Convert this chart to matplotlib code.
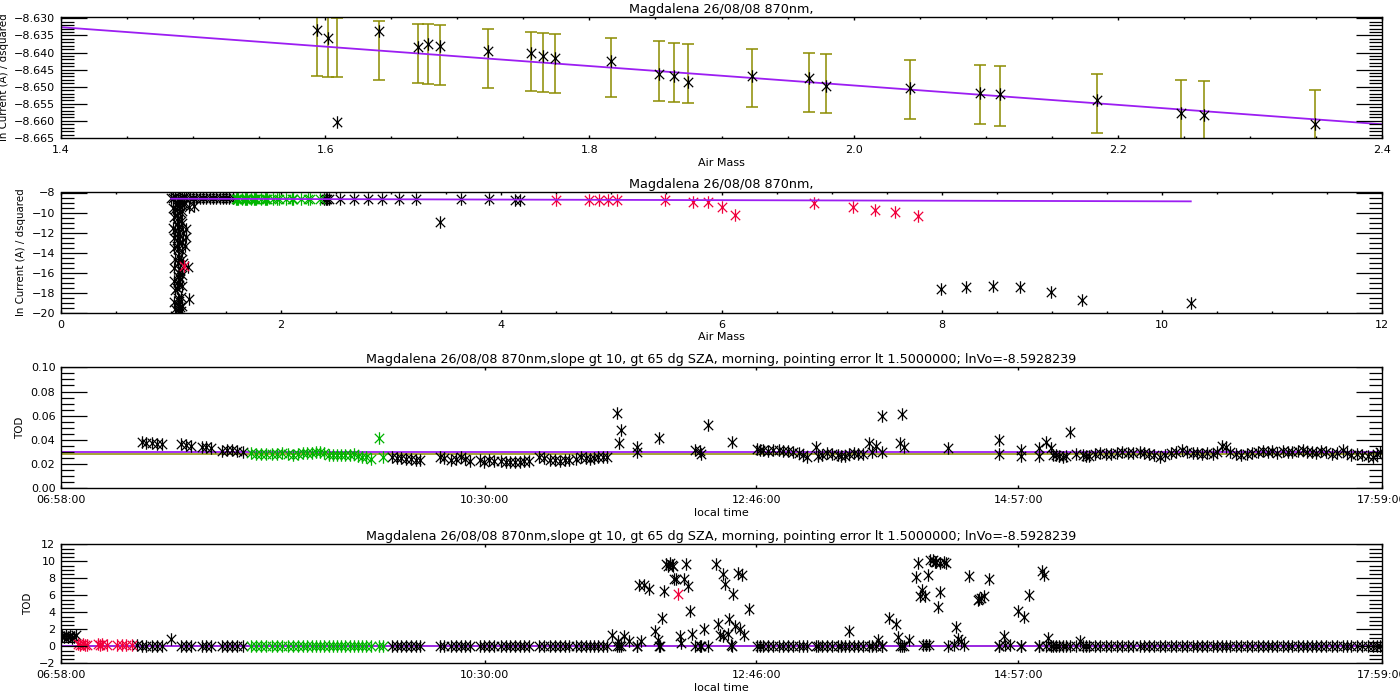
import numpy as np
import matplotlib
matplotlib.use("Agg")
import matplotlib.pyplot as plt
from matplotlib.path import Path
from matplotlib.ticker import MultipleLocator, FuncFormatter, FixedLocator

plt.rcParams['font.family'] = ['DejaVu Sans']
plt.rcParams['font.size'] = 8
# IDL style axes: inward ticks all round; y ticks are drawn by idl_yticks below
plt.rcParams.update({
    'xtick.direction': 'in', 'ytick.direction': 'in',
    'xtick.top': True, 'ytick.right': True,
    'ytick.major.size': 0, 'ytick.minor.size': 0,
    'xtick.major.size': 2.5, 'xtick.minor.size': 1.2,
    'xtick.major.width': 1.0, 'xtick.minor.width': 1.0,
    'ytick.major.pad': 4, 'xtick.major.pad': 5,
    'axes.linewidth': 1.0,
})

title_short = "Magdalena 26/08/08 870nm,"
title_long = ("Magdalena 26/08/08 870nm,slope gt 10, gt 65 dg SZA, morning, "
              "pointing error lt 1.5000000; lnVo=-8.5928239")

# Langley fit
lnVo = -8.5928239
slope = -0.0284

# Panel 1: points used in the Langley fit (air mass, ln current, error)
lang_am = [1.594, 1.602, 1.609, 1.641, 1.670, 1.678, 1.687, 1.723, 1.756, 1.765,
           1.774, 1.816, 1.853, 1.864, 1.875, 1.923, 1.966, 1.979, 2.043, 2.096,
           2.111, 2.184, 2.248, 2.265, 2.349]
lang_lnI = [-8.6333, -8.6358, -8.6602, -8.6338, -8.6383, -8.6375, -8.6380, -8.6395,
            -8.6402, -8.6410, -8.6415, -8.6425, -8.6464, -8.6468, -8.6485, -8.6470,
            -8.6474, -8.6499, -8.6503, -8.6517, -8.6521, -8.6539, -8.6576, -8.6583,
            -8.6608]
lang_err = [0.0087, 0.0088, 0.0087, 0.0087, 0.0087, 0.0087, 0.0087, 0.0087, 0.0087,
            0.0087, 0.0086, 0.0087, 0.0087, 0.0086, 0.0087, 0.0085, 0.0086, 0.0087,
            0.0087, 0.0087, 0.0087, 0.0087, 0.0087, 0.0087, 0.0086]

# Panel 2: all morning points (black = rejected, red = flagged)
am_black = [1.00, 1.02, 1.04, 1.06, 1.08, 1.10, 1.12, 1.14, 1.17, 1.20, 1.23, 1.26,
            1.29, 1.32, 1.35, 1.38, 1.41, 1.44, 1.47, 1.50, 1.53, 1.56,
            1.05, 1.07, 1.04, 1.08, 1.05, 1.06, 1.09, 1.05, 1.07, 1.04, 1.06, 1.08,
            1.05, 1.07, 1.05, 1.06, 1.07, 1.09, 1.06, 1.08, 1.07, 1.06, 1.08, 1.06,
            1.07, 1.05, 1.06, 1.07, 1.06, 1.08, 1.06, 1.07,
            1.02, 1.10, 1.03, 1.10, 1.02, 1.11, 1.03, 1.10, 1.03, 1.10, 1.04, 1.11,
            1.03, 1.10, 1.03, 1.10, 1.04, 1.09, 1.03, 1.10, 1.04, 1.09, 1.12, 1.08,
            1.139, 1.124, 1.155, 1.164, 1.133, 1.164, 1.209, 1.10,
            2.39, 2.41, 2.42, 2.437, 2.538, 2.66, 2.79, 2.916, 3.066, 3.228, 3.635,
            3.886, 4.12, 4.17, 3.44,
            7.996, 8.222, 8.465, 8.715, 8.99, 9.277, 10.263]
ln_black = [-8.50, -8.55, -8.45, -8.60, -8.50, -8.55, -8.48, -8.58, -8.52, -8.55, -8.50,
            -8.58, -8.52, -8.55, -8.50, -8.58, -8.55, -8.52, -8.58, -8.55, -8.52, -8.57,
            -9.0, -9.3, -9.6, -9.9, -10.2, -10.5, -10.8, -11.1, -11.4, -11.7, -12.0,
            -12.3, -12.7, -13.0, -13.3, -13.6, -14.4, -14.7, -15.0, -15.7, -16.0,
            -16.3, -16.6, -16.9, -17.2, -17.5, -18.5, -18.8, -19.1, -19.4, -19.7, -19.8,
            -9.5, -9.8, -10.4, -11.0, -11.5, -12.0, -12.5, -12.9, -13.5, -13.8, -14.6,
            -15.0, -15.5, -16.2, -16.8, -17.3, -17.7, -18.4, -18.9, -19.3, -19.6, -19.8,
            -9.1, -8.9,
            -12.49, -13.35, -15.41, -18.63, -11.60, -9.43, -9.33, -9.20,
            -8.60, -8.62, -8.65, -8.65, -8.65, -8.67, -8.67, -8.67, -8.68, -8.68,
            -8.66, -8.67, -8.72, -8.72, -10.97,
            -17.60, -17.47, -17.37, -17.47, -17.90, -18.73, -19.03]
am_red = [1.115, 4.496, 4.80, 4.885, 4.97, 5.05, 5.49, 5.745, 5.879, 6.0, 6.125,
          6.844, 7.196, 7.39, 7.576, 7.786]
ln_red = [-15.35, -8.70, -8.70, -8.70, -8.70, -8.70, -8.75, -8.93, -8.96, -9.46,
          -10.28, -9.06, -9.49, -9.72, -9.92, -10.38]

# Panel 3: TOD vs local time (minutes after midnight), accepted points
tod_t = [458.5, 460.5, 463.4, 466.0, 468.6, 478.1, 480.5, 482.9, 488.6, 490.5, 493.3,
         498.8, 501.0, 503.4, 506.0, 509.1,
         583.5, 586.0, 588.1, 590.5, 593.0, 595.5, 597.8, 607.7, 609.5, 613.0, 615.5,
         618.3, 620.0, 622.5, 627.7, 629.9, 632.0, 634.5, 638.3, 640.5, 642.5, 645.0,
         647.8, 649.9, 652.0, 657.3, 659.5, 662.5, 665.0, 667.8, 670.0, 672.0, 675.5,
         678.3, 680.5, 682.5, 684.5, 686.8, 689.0, 691.0, 696.2, 697.3, 698.4, 706.1,
         706.1, 717.3, 735.2, 737.5, 738.4, 741.9, 753.6,
         766.2, 768.0, 769.5, 772.0, 774.5, 777.2, 779.5, 781.6, 784.5, 787.1, 789.5,
         791.5, 795.9, 797.0, 799.0, 801.4, 804.0, 806.9, 808.5, 810.2, 812.5, 814.6,
         817.0, 819.1, 822.4, 824.0, 825.7, 829.0, 829.0, 837.8, 838.9, 840.0, 862.0,
         887.4, 887.4, 898.4, 898.4, 907.2, 907.2, 911.0, 913.2, 914.5, 916.0, 917.5,
         919.3, 921.0, 923.1, 926.0, 929.3, 931.0, 932.6, 935.5, 938.1, 941.0, 943.6,
         946.5, 949.1, 952.0, 954.6, 957.9, 960.0, 962.3, 965.0, 967.8, 970.5, 973.3,
         976.0, 978.9, 981.5, 984.4, 986.5, 988.8, 991.5, 994.3, 996.5, 998.7, 1000.9,
         1003.0, 1006.0, 1008.6, 1011.5, 1014.1, 1017.0, 1019.6, 1022.0, 1024.0,
         1026.5, 1029.5, 1032.0, 1034.0, 1037.0, 1039.5, 1041.5, 1043.9, 1046.0,
         1048.3, 1051.0, 1053.8, 1056.5, 1059.3, 1061.5, 1063.7, 1066.5, 1069.2,
         1072.0, 1074.3, 1076.5, 1078.0]
tod_v = [0.0381, 0.0376, 0.0372, 0.0368, 0.0364, 0.0364, 0.0358, 0.0353, 0.0344, 0.0340,
         0.0336, 0.0311, 0.0314, 0.0317, 0.0305, 0.0297,
         0.0256, 0.0250, 0.0247, 0.0243, 0.0239, 0.0236, 0.0233, 0.0256, 0.0250, 0.0233,
         0.0240, 0.0256, 0.0245, 0.0225, 0.0233, 0.0214, 0.0233, 0.0228, 0.0225, 0.0220,
         0.0219, 0.0216, 0.0214, 0.0225, 0.0222, 0.0261, 0.0250, 0.0233, 0.0238, 0.0225,
         0.0230, 0.0233, 0.0245, 0.0261, 0.0250, 0.0239, 0.0250, 0.0261, 0.0256, 0.0261,
         0.0622, 0.0372, 0.0478, 0.0344, 0.0303, 0.0414, 0.0317, 0.0310, 0.0281, 0.0525,
         0.0381,
         0.0325, 0.0320, 0.0317, 0.0312, 0.0315, 0.0317, 0.0310, 0.0308, 0.0300, 0.0289,
         0.0275, 0.0261, 0.0344, 0.0267, 0.0275, 0.0289, 0.0280, 0.0275, 0.0270, 0.0267,
         0.0280, 0.0294, 0.0285, 0.0281, 0.0372, 0.0300, 0.0353, 0.0600, 0.0303, 0.0372,
         0.0617, 0.0344, 0.0336,
         0.0400, 0.0283, 0.0317, 0.0267, 0.0331, 0.0267, 0.0386, 0.0331, 0.0275, 0.0275,
         0.0270, 0.0261, 0.0270, 0.0464, 0.0280, 0.0275, 0.0270, 0.0267, 0.0280, 0.0289,
         0.0285, 0.0283, 0.0295, 0.0303, 0.0290, 0.0289, 0.0303, 0.0295, 0.0283, 0.0275,
         0.0261, 0.0275, 0.0289, 0.0300, 0.0317, 0.0300, 0.0294, 0.0290, 0.0283, 0.0290,
         0.0283, 0.0300, 0.0353, 0.0344, 0.0300, 0.0285, 0.0275, 0.0280, 0.0289, 0.0300,
         0.0308, 0.0300, 0.0308, 0.0295, 0.0308, 0.0300, 0.0303, 0.0305, 0.0317, 0.0300,
         0.0303, 0.0295, 0.0311, 0.0300, 0.0283, 0.0295, 0.0317, 0.0290, 0.0275, 0.0280,
         0.0275, 0.0270, 0.0261, 0.0280, 0.0303]
tod_green_t = [512.9, 515.5, 518.1, 520.8, 523.4, 526.0, 528.7, 531.4, 534.0, 536.6,
               539.2, 541.3, 543.4, 545.5, 547.6, 549.8, 551.9, 554.0, 556.1, 558.2,
               560.3, 562.4, 564.5, 566.6, 568.7, 570.8, 572.9, 577.2, 579.3]
tod_green_v = [0.0289, 0.0285, 0.0281, 0.0283, 0.0281, 0.0286, 0.0289, 0.0280, 0.0275,
               0.0283, 0.0289, 0.0292, 0.0294, 0.0298, 0.0303, 0.0290, 0.0275, 0.0278,
               0.0275, 0.0272, 0.0275, 0.0278, 0.0281, 0.0270, 0.0261, 0.0255, 0.0242,
               0.0414, 0.0261]
tod_mean = 0.0298
tod_median = 0.0282

# Panel 4: extra points not kept in panel 3 (clouds, early morning)
rej_t = [418.5, 419.5, 420.5, 421.5, 422.5, 423.5, 424.5, 425.5, 456.2, 473.0,
         693.7, 696.5, 699.6, 702.1, 707.1, 708.0, 709.6, 712.0, 715.4, 716.6, 717.5,
         718.6, 719.6, 720.8, 721.5, 722.5, 723.5, 724.1, 724.5, 725.8, 727.5, 728.3,
         729.6, 730.8, 731.6, 732.8, 733.5, 739.5, 745.5, 746.6, 747.5, 749.2, 749.5,
         750.5, 751.6, 752.5, 753.1, 754.5, 755.5, 756.7, 757.8, 758.8, 759.7, 762.2,
         812.2, 826.8, 832.3, 836.0, 836.8, 842.1, 846.0, 846.8, 847.6, 848.8, 849.5,
         850.1, 851.0, 851.8, 852.5, 853.0, 854.4, 855.2, 856.0, 856.8, 857.7, 857.7,
         859.7, 861.0, 865.0, 866.0, 866.8, 868.2, 870.0, 872.3, 876.8, 877.5, 878.5,
         879.7, 882.3, 889.8, 890.5, 893.0, 896.9, 899.9, 902.4, 909.1, 909.7, 911.9,
         927.8]
rej_v = [1.20, 1.05, 1.30, 1.10, 1.25, 0.95, 1.15, 1.30, 0.10, 0.82,
         1.29, 0.59, 1.22, 0.63, 7.18, 0.63, 7.25, 6.70, 1.76, 0.71, 0.04,
         3.37, 6.47, 9.65, 9.50, 9.84, 9.60, 9.50, 7.96, 7.96, 1.22, 0.43,
         7.96, 9.65, 7.10, 4.12, 1.49, 2.00, 9.73, 2.67, 1.29, 1.22, 8.55,
         7.37, 1.49, 3.18, 0.20, 6.20, 2.39, 8.67, 2.00, 8.44, 1.29, 4.35,
         1.76, 0.71, 3.37, 2.67, 1.10, 0.71, 8.16, 9.84, 5.92, 6.59, 0.15,
         5.92, 0.20, 8.44, 0.10, 10.10, 10.10, 9.95, 9.90, 4.63, 9.84, 6.39,
         9.90, 9.85, 0.20, 2.27, 0.90, 0.63, 0.15, 8.24, 5.41, 5.55, 5.69,
         5.96, 7.88, 1.22, 0.15, 0.20, 4.16, 3.45, 6.00, 8.82, 8.44, 1.02,
         0.63]
rej_red_t = [426.6, 427.5, 428.9, 430.0, 431.1, 436.7, 437.5, 438.5, 441.2, 446.1,
             448.4, 450.6, 453.5, 726.5]
rej_red_v = [0.25, 0.15, 0.30, 0.20, 0.10, 0.30, 0.15, 0.25, 0.10, 0.20,
             0.15, 0.20, 0.15, 6.20]

time_ticks = ["06:58:00", "10:30:00", "12:46:00", "14:57:00", "17:59:00"]

purple = '#9c1ef2'
olive = '#8c8c00'
red = '#f0003c'
green = '#00b400'

# IDL style asterisk (vertical bar + X)
star = Path([(0, -1), (0, 1), (-0.75, -0.75), (0.75, 0.75), (-0.75, 0.75), (0.75, -0.75)],
            [Path.MOVETO, Path.LINETO] * 3)


def stars(ax, x, y, color):
    ax.plot(x, y, linestyle='none', marker=star, ms=9, mec=color, mfc='none', mew=0.9)


def idl_yticks(ax):
    # IDL y ticks: 2% of the plot width (major), half that for minor, both sides
    y0, y1 = sorted(ax.get_ylim())
    trans = ax.get_yaxis_transform()
    for locs, ln in ((ax.yaxis.get_majorticklocs(), 0.02),
                     (ax.yaxis.get_minorticklocs(), 0.01)):
        locs = [v for v in locs if y0 <= v <= y1]
        ax.hlines(locs, 0, ln, transform=trans, color='black', lw=0.9)
        ax.hlines(locs, 1 - ln, 1, transform=trans, color='black', lw=0.9)


def idl_axes(ax, title, xlabel, ylabel):
    ax.set_title(title, fontsize=9.2, pad=3)
    ax.set_xlabel(xlabel, labelpad=2)
    ax.set_ylabel(ylabel, fontsize=7.4, labelpad=4)
    idl_yticks(ax)


def minus_fmt(fmt):
    return FuncFormatter(lambda v, p: format(v, fmt).replace('-', '\u2212'))


def to_min(s):
    h, m, sec = s.split(':')
    return int(h) * 60 + int(m) + int(sec) / 60


fig = plt.figure(figsize=(14, 7), dpi=100)
L = 61 / 1400
W = (1382 - 61) / 1400
ax1 = fig.add_axes([L, 1 - 138 / 700, W, (138 - 17) / 700])
ax2 = fig.add_axes([L, 1 - 312.7 / 700, W, (312.7 - 192.5) / 700])
ax3 = fig.add_axes([L, 1 - 488.3 / 700, W, (488.3 - 367.3) / 700])
ax4 = fig.add_axes([L, 1 - 663.3 / 700, W, (663.3 - 544.3) / 700])

all_am = np.array(am_black + am_red + lang_am)
fit_x = np.linspace(all_am.min(), all_am.max(), 200)
fit_y = lnVo + slope * fit_x

# Panel 1: Langley plot with error bars
lang_am_a = np.array(lang_am)
ax1.errorbar(lang_am_a, lnVo + slope * lang_am_a, yerr=lang_err, fmt='none',
             ecolor=olive, elinewidth=1.1, capsize=4.3, capthick=1.1)
ax1.plot(fit_x, fit_y, color=purple, lw=1.3)
stars(ax1, lang_am, lang_lnI, 'black')
ax1.set_xlim(1.4, 2.4)
ax1.set_ylim(-8.6650, -8.6296)
ax1.xaxis.set_major_locator(MultipleLocator(0.2))
ax1.xaxis.set_minor_locator(MultipleLocator(0.05))
ax1.yaxis.set_major_locator(MultipleLocator(0.005))
ax1.yaxis.set_minor_locator(MultipleLocator(0.001))
ax1.xaxis.set_major_formatter(minus_fmt('.1f'))
ax1.yaxis.set_major_formatter(minus_fmt('.3f'))
idl_axes(ax1, title_short, "Air Mass", "ln Current (A) / dsquared")

# Panel 2: all air masses
stars(ax2, am_black, ln_black, 'black')
stars(ax2, lang_am, lang_lnI, green)
stars(ax2, am_red, ln_red, red)
ax2.plot(fit_x, fit_y, color=purple, lw=1.3)
ax2.set_xlim(0, 12)
ax2.set_ylim(-20, -8)
ax2.xaxis.set_major_locator(MultipleLocator(2))
ax2.xaxis.set_minor_locator(MultipleLocator(0.5))
ax2.yaxis.set_major_locator(MultipleLocator(2))
ax2.yaxis.set_minor_locator(MultipleLocator(0.5))
ax2.xaxis.set_major_formatter(minus_fmt('.0f'))
ax2.yaxis.set_major_formatter(minus_fmt('.0f'))
idl_axes(ax2, title_short, "Air Mass", "ln Current (A) / dsquared")

tick_pos = [to_min(s) for s in time_ticks]

# Panel 3: TOD, accepted points
ax3.axhline(tod_median, color=olive, lw=1.1)
ax3.axhline(tod_mean, color=purple, lw=1.3)
stars(ax3, tod_t, tod_v, 'black')
stars(ax3, tod_green_t, tod_green_v, green)
ax3.set_xlim(tick_pos[0], tick_pos[-1])
ax3.set_ylim(0, 0.10)
ax3.xaxis.set_major_locator(FixedLocator(tick_pos))
ax3.set_xticklabels(time_ticks)
ax3.yaxis.set_major_locator(MultipleLocator(0.02))
ax3.yaxis.set_minor_locator(MultipleLocator(0.005))
ax3.yaxis.set_major_formatter(minus_fmt('.2f'))
idl_axes(ax3, title_long, "local time", "TOD")

# Panel 4: TOD, all points
ax4.axhline(tod_median, color=olive, lw=1.1)
ax4.axhline(tod_mean, color=purple, lw=1.3)
stars(ax4, tod_t, tod_v, 'black')
stars(ax4, rej_t, rej_v, 'black')
stars(ax4, tod_green_t, tod_green_v, green)
stars(ax4, rej_red_t, rej_red_v, red)
ax4.set_xlim(tick_pos[0], tick_pos[-1])
ax4.set_ylim(-2, 12)
ax4.xaxis.set_major_locator(FixedLocator(tick_pos))
ax4.set_xticklabels(time_ticks)
ax4.yaxis.set_major_locator(MultipleLocator(2))
ax4.yaxis.set_minor_locator(MultipleLocator(0.5))
ax4.yaxis.set_major_formatter(minus_fmt('.0f'))
idl_axes(ax4, title_long, "local time", "TOD")

fig.savefig("out.png", dpi=100)
